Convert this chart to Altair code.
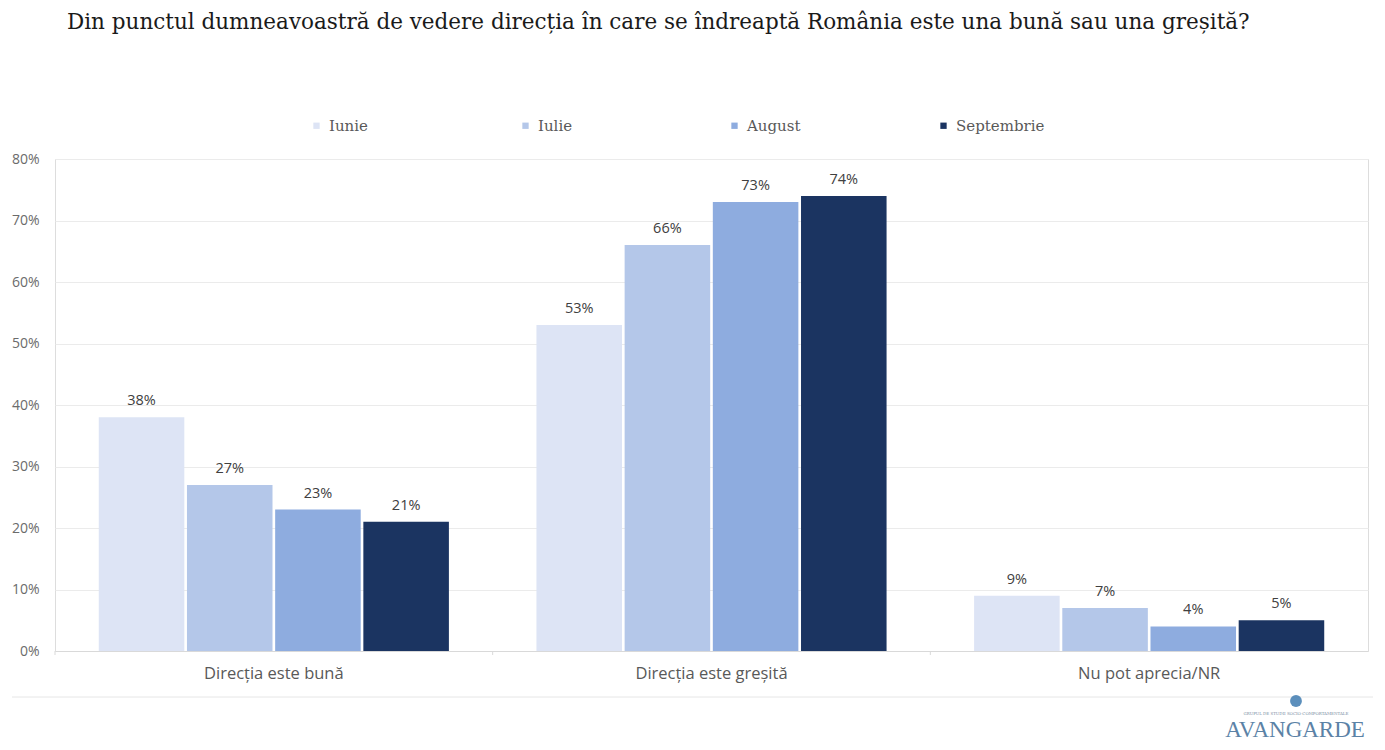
import altair as alt
import pandas as pd

categories = ["Direcția este bună", "Direcția este greșită", "Nu pot aprecia/NR"]
months = ["Iunie", "Iulie", "August", "Septembrie"]
values = {
    "Iunie": [38, 53, 9],
    "Iulie": [27, 66, 7],
    "August": [23, 73, 4],
    "Septembrie": [21, 74, 5],
}
colors = ["#dde4f5", "#b4c7e9", "#8eacdf", "#1b3461"]
y_ticks = [0, 10, 20, 30, 40, 50, 60, 70, 80]
title_text = "Din punctul dumneavoastră de vedere direcția în care se îndreaptă România este una bună sau una greșită?"

rows = []
for m in months:
    for c, v in zip(categories, values[m]):
        rows.append({"cat": c, "month": m, "val": v, "label": f"{v}%"})
df = pd.DataFrame(rows)
cat_df = pd.DataFrame({"cat": categories})
one_df = pd.DataFrame({"t": [title_text]})

W, H = 1313, 492
STEP = W / 3
SANS = "Open Sans"
SERIF = "DejaVu Serif"

x_enc = alt.X("cat:N", sort=categories, title=None,
              scale=alt.Scale(paddingInner=0.2, paddingOuter=0.1),
              axis=alt.Axis(labelAngle=0, labelFont=SANS, labelFontSize=16.5,
                            labelColor="#595959", labelPadding=14, ticks=False,
                            domainColor="#d9d9d9", domainWidth=1))
y_enc = alt.Y("val:Q", title=None,
              scale=alt.Scale(domain=[0, 80]),
              axis=alt.Axis(values=y_ticks, labelExpr="datum.value + '%'",
                            labelFont=SANS, labelFontSize=14, labelColor="#6b6b6b",
                            labelPadding=16, ticks=False, domain=False,
                            gridColor="#ebebeb", gridWidth=1))

base = alt.Chart(df).encode(
    x=x_enc,
    xOffset=alt.XOffset("month:N", sort=months, scale=alt.Scale(paddingInner=0.03)),
)

bars = base.mark_bar().encode(
    y=y_enc,
    color=alt.Color("month:N", sort=months,
                    scale=alt.Scale(domain=months, range=colors),
                    legend=alt.Legend(title=None, orient="none", direction="horizontal",
                                      legendX=254, legendY=-41, symbolType="square",
                                      symbolSize=40, symbolStrokeWidth=0,
                                      labelFont=SERIF, labelFontSize=15,
                                      labelColor="#595959", gridAlign="all",
                                      columnPadding=100, labelOffset=5)),
)

labels = base.mark_text(dy=-16, font=SANS, fontSize=14.5, color="#404040").encode(
    y="val:Q",
    text="label:N",
)

ticks = alt.Chart(cat_df).mark_rule(color="#d9d9d9", xOffset=-STEP * 0.1).encode(
    x=alt.X("cat:N", sort=categories, bandPosition=0),
    y=alt.value(H),
    y2=alt.value(H + 4),
)

sep = alt.Chart(one_df).mark_rule(color="#e6e6e6", strokeWidth=1).encode(
    x=alt.value(-43), x2=alt.value(W + 5), y=alt.value(H + 46)
)

title = alt.Chart(one_df).mark_text(
    font=SERIF, fontSize=21.5, color="#1a1a1a", align="left", baseline="middle").encode(
    text="t:N", x=alt.value(12), y=alt.value(-136))

logo_small = alt.Chart(one_df).mark_text(
    text="GRUPUL DE STUDII SOCIO-COMPORTAMENTALE", font=SERIF, fontSize=4,
    color="#7a8ea3", align="center").encode(x=alt.value(W - 72), y=alt.value(H + 63))
logo = alt.Chart(one_df).mark_text(
    text="AVANGARDE", font="Liberation Serif", fontSize=23, color="#5b82a6",
    align="center", baseline="alphabetic").encode(x=alt.value(W - 73), y=alt.value(H + 86))
logo_circle = alt.Chart(one_df).mark_point(
    shape="circle", size=140, filled=True, color="#3f7bb0", opacity=0.85).encode(
    x=alt.value(W - 72), y=alt.value(H + 50))

chart = alt.layer(bars, labels, ticks, sep, title, logo_circle, logo_small, logo).properties(
    width=W, height=H,
    autosize=alt.AutoSizeParams(type="none"),
    padding={"left": 47, "top": 151, "right": 9, "bottom": 90},
).configure_view(stroke=None).configure(background="white")

chart.save("out.html", embed_options={"renderer": "svg", "actions": False})
